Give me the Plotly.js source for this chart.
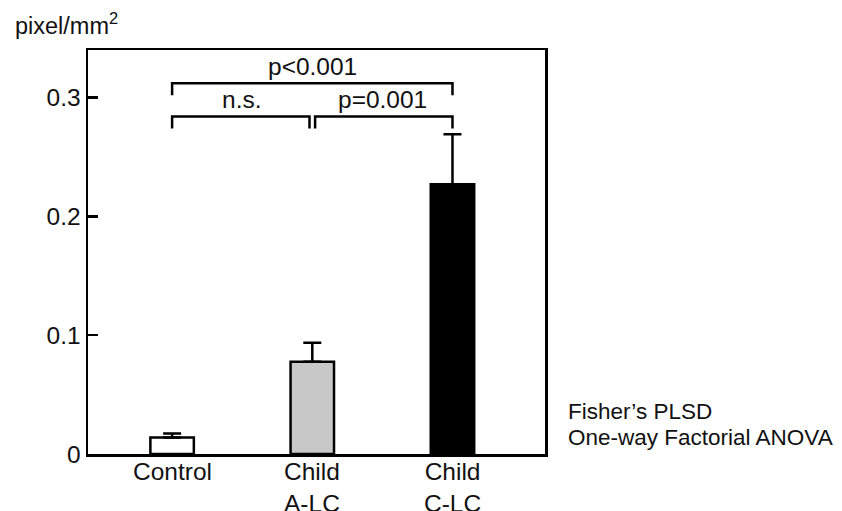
<!DOCTYPE html>
<html><head><meta charset="utf-8">
<script src="https://cdn.plot.ly/plotly-3.0.1.min.js"></script>
<style>body{margin:0;background:#fff}#c{width:842px;height:511px}</style>
</head><body><div id="c"></div>
<script>
const categories = ["Control", "Child<br>A-LC", "Child<br>C-LC"];
const means = [0.0139, 0.0777, 0.227];
const errorsUp = [0.0033, 0.0160, 0.042];
const barColors = ["#ffffff", "#c8c8c8", "#000000"];
const yTicks = [0, 0.1, 0.2, 0.3];
const yTickLabels = ["0", "0.1", "0.2", "0.3"];
// brackets: from category index, to category index, height, label, label height
const bracketFrom = [0, 1, 0];
const bracketTo = [1, 2, 2];
const bracketY = [0.284, 0.284, 0.312];
const bracketLabels = ["n.s.", "p=0.001", "p<0.001"];
const labelY = [0.298, 0.298, 0.326];
const noteLines = ["Fisher’s PLSD", "One-way Factorial ANOVA"];

const xs = categories.map((_, i) => i);
const font = {family: "Liberation Sans, Arial, sans-serif", color: "#111"};
const traces = [{
  type: "bar", x: xs, y: means, width: 0.31,
  marker: {color: barColors, line: {color: "#000", width: 2.5}},
  error_y: {type: "data", symmetric: false, array: errorsUp, arrayminus: [0,0,0],
            color: "#000", thickness: 2.5, width: 9},
  hoverinfo: "none", showlegend: false
}];
const tickDrop = 0.01, gap = 0.02;
bracketFrom.forEach((a, k) => {
  const b = bracketTo[k];
  let x0 = a, x1 = b;
  if (k === 0) x1 = b - gap;
  if (k === 1) x0 = a + gap;
  traces.push({type: "scatter", mode: "lines",
    x: [x0, x0, x1, x1], y: [bracketY[k] - tickDrop, bracketY[k], bracketY[k], bracketY[k] - tickDrop],
    line: {color: "#000", width: 2.5}, hoverinfo: "none", showlegend: false, cliponaxis: false});
});
const annotations = bracketLabels.map((t, k) => ({
  x: (bracketFrom[k] + bracketTo[k]) / 2, y: labelY[k], xref: "x", yref: "y",
  text: t, showarrow: false, font: {...font, size: 24.5}
}));
categories.forEach((c, i) => annotations.push({
  x: i, xref: "x", y: 0, yref: "paper", yanchor: "top", yshift: -2,
  text: c, showarrow: false, font: {...font, size: 24.5}
}));
annotations.push({xref: "paper", yref: "paper", x: -0.165, y: 1.022, xanchor: "left", yanchor: "bottom",
  text: "pixel/mm<sup>2</sup>", showarrow: false, font: {...font, size: 23.5}});
noteLines.forEach((t, i) => annotations.push({xref: "paper", yref: "paper", x: 1.046,
  y: (454 - (411 + 26 * i)) / 404, xanchor: "left", yanchor: "middle", align: "left",
  text: t, showarrow: false, font: {...font, size: 22.5}}));

const layout = {
  width: 842, height: 511,
  margin: {l: 88, r: 297, t: 50, b: 57},
  paper_bgcolor: "#fff", plot_bgcolor: "#fff",
  font: {...font, size: 24},
  xaxis: {range: [-0.6, 2.66], tickvals: xs, showticklabels: false, ticks: "",
          showgrid: false, zeroline: false, showline: true, mirror: true,
          linecolor: "#000", linewidth: 2.5, fixedrange: true},
  yaxis: {range: [0, 0.34], tickvals: yTicks, ticktext: yTickLabels, ticks: "inside",
          ticklen: 10, tickwidth: 2.5, tickcolor: "#000", showgrid: false, zeroline: false,
          showline: true, mirror: true, linecolor: "#000", linewidth: 2.5, fixedrange: true,
          tickfont: {...font, size: 24.5}},
  annotations: annotations, bargap: 0
};
Plotly.newPlot("c", traces, layout, {displayModeBar: false, staticPlot: true});
</script></body></html>
